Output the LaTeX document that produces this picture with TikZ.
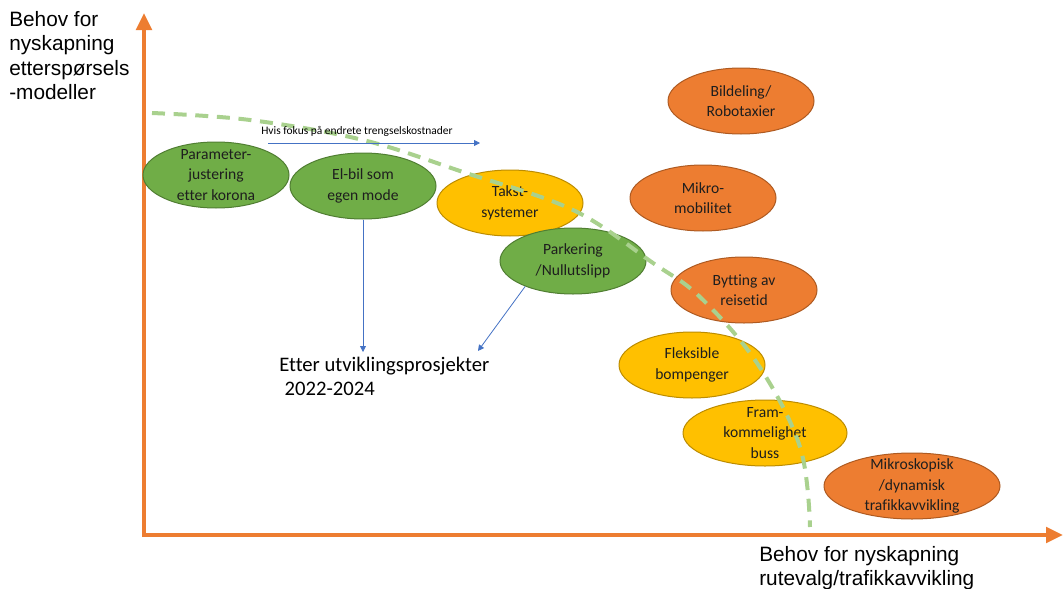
\documentclass[tikz,border=0pt]{standalone}
\usepackage{fontspec}
\setmainfont{Carlito}[Ligatures=NoCommon]
\newfontfamily\arialfont{Liberation Sans}
\usetikzlibrary{shapes.geometric,arrows.meta}
\definecolor{axisorange}{HTML}{ED7D31}
\definecolor{ovgreen}{HTML}{70AD47}
\definecolor{ovgreenline}{HTML}{507E32}
\definecolor{ovyellow}{HTML}{FFC000}
\definecolor{ovyellowline}{HTML}{BC8C00}
\definecolor{ovorange}{HTML}{ED7D31}
\definecolor{ovorangeline}{HTML}{AE5A21}
\definecolor{curvegreen}{HTML}{A9D18E}
\definecolor{linkblue}{HTML}{4472C4}
\definecolor{ovtextcol}{HTML}{1E1E1E}
\begin{document}
\begin{tikzpicture}[x=0.75pt,y=-0.75pt,
  oval/.style={ellipse, line width=0.75pt, inner sep=0pt, minimum width=109.5pt, minimum height=49.5pt},
  greenoval/.style={oval, fill=ovgreen, draw=ovgreenline},
  yellowoval/.style={oval, fill=ovyellow, draw=ovyellowline},
  orangeoval/.style={oval, fill=ovorange, draw=ovorangeline},
  ovtext/.style={align=center, font=\fontsize{11.7}{15.3}\selectfont, text=ovtextcol, inner sep=0pt},
  axislabel/.style={anchor=north west, align=left, inner sep=0pt, font=\arialfont\fontsize{15.6}{18.4}\selectfont},
  axis/.style={axisorange, line width=3.4pt, -{Triangle[length=12.75pt,width=11.5pt]}},
  link/.style={linkblue, line width=0.6pt, -{Triangle[length=4.5pt,width=4.5pt]}},
  boundary/.style={curvegreen, line width=3pt, dash pattern=on 9.75pt off 6.5pt},
]
\useasboundingbox (0,0) rectangle (1064,589);

% axes
\coordinate (ybase) at (144,537);
\coordinate (ytip) at (144,13);
\coordinate (xbase) at (142,535);
\coordinate (xtip) at (1063,535);
\draw[axis] (ybase) -- (ytip);
\draw[axis] (xbase) -- (xtip);

% axis labels
\node[axislabel] (ylab) at (9,11) {Behov for\\nyskapning\\etterspørsels\\-modeller};
\node[axislabel] (xlab) at (759,546) {Behov for nyskapning\\rutevalg/trafikkavvikling};

% ovals
\node[greenoval] (pj) at (216,175) {};
\node[ovtext] at (pj) {Parameter-\\justering\\etter korona};
\node[greenoval] (eb) at (363,186) {};
\node[ovtext] at (eb) {El-bil som\\egen mode};
\node[yellowoval] (ts) at (510,203) {};
\node[ovtext] at (ts) {Takst-\\systemer};
\node[greenoval] (pk) at (573,261) {};
\node[ovtext] at (pk) {Parkering\\/Nullutslipp};
\node[orangeoval] (bd) at (741,101) {};
\node[ovtext] at (bd) {Bildeling/\\Robotaxier};
\node[orangeoval] (mm) at (703,198) {};
\node[ovtext] at (mm) {Mikro-\\mobilitet};
\node[orangeoval] (br) at (744,290) {};
\node[ovtext] at (br) {Bytting av\\reisetid};
\node[yellowoval] (fb) at (692,365) {};
\node[ovtext] at (fb) {Fleksible\\bompenger};
\node[yellowoval, minimum width=123pt] (fk) at (765,433) {};
\node[ovtext] at (fk) {Fram-\\kommelighet\\buss};
\node[orangeoval, minimum width=132pt] (ms) at (912,486) {};
\node[ovtext] at (ms) {Mikroskopisk\\/dynamisk\\trafikkavvikling};

% dashed boundary curve
\draw[boundary] plot[smooth, tension=0.6] coordinates {(152,113) (250,120) (363,140) (463,172) (573,210) (653,263) (700,297) (757,363) (800,447) (810,527)};

% note on the upper arrow
\node[font=\fontsize{8.6}{10}\selectfont, inner sep=0pt] (hvis) at (357,131) {Hvis fokus på endrete trengselskostnader};
\coordinate (h1) at (268,143);
\coordinate (h2) at (480,143);
\draw[link] (h1) -- (h2);

% result text and arrows into it
\node[anchor=north west, align=left, inner sep=0pt, font=\fontsize{15.5}{18}\selectfont] (etter) at (279,357) {Etter utviklingsprosjekter\\\hspace*{4pt}2022-2024};
\coordinate (e1) at (363,352);
\coordinate (e2) at (478,351);
\draw[link] (eb.south) -- (e1);
\draw[link] (pk.208) -- (e2);
\end{tikzpicture}
\end{document}
